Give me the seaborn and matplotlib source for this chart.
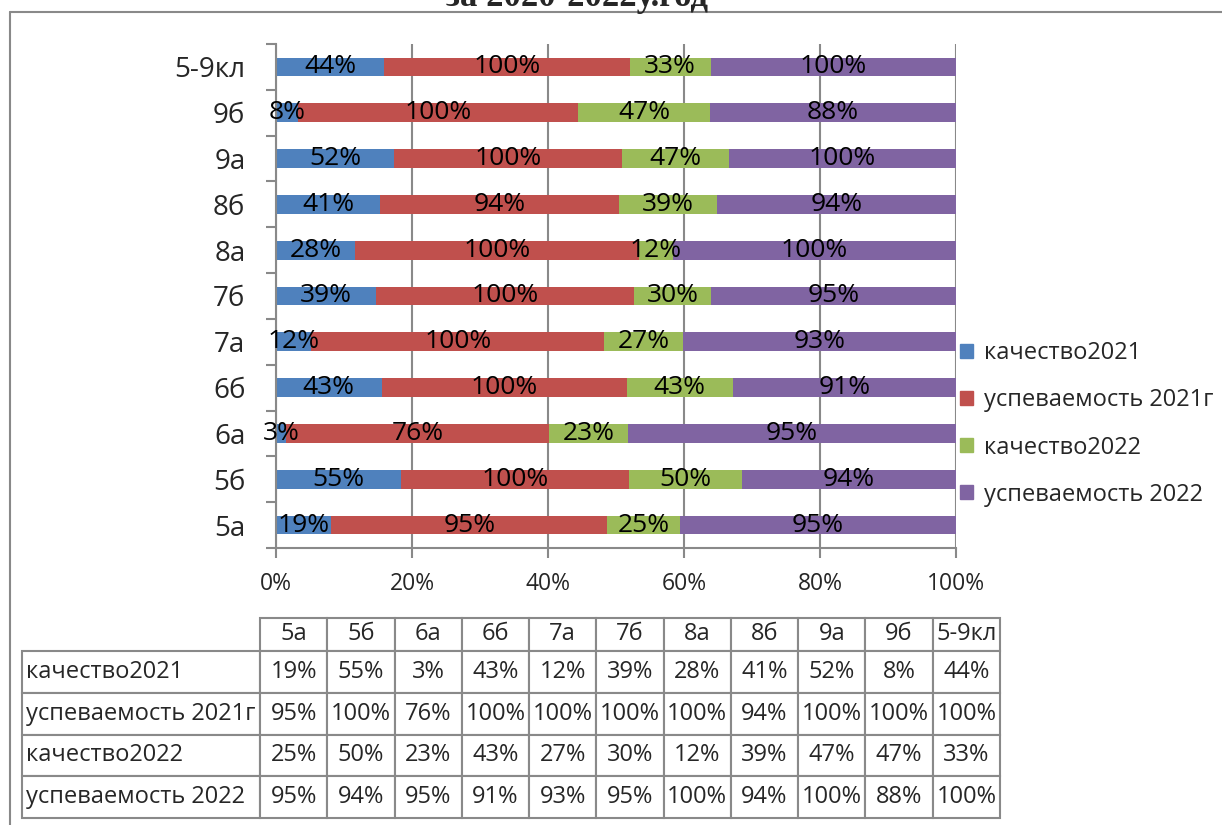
import matplotlib
matplotlib.use("Agg")
import matplotlib.pyplot as plt
from matplotlib.lines import Line2D
from matplotlib.patches import Patch
from matplotlib.table import Table
import numpy as np
import pandas as pd
import seaborn as sns

# ============ данные ============
classes = ["5а", "5б", "6а", "6б", "7а", "7б", "8а", "8б", "9а", "9б", "5-9кл"]
kach_2021 = [19, 55, 3, 43, 12, 39, 28, 41, 52, 8, 44]
usp_2021 = [95, 100, 76, 100, 100, 100, 100, 94, 100, 100, 100]
kach_2022 = [25, 50, 23, 43, 27, 30, 12, 39, 47, 47, 33]
usp_2022 = [95, 94, 95, 91, 93, 95, 100, 94, 100, 88, 100]

series_names = ["качество2021", "успеваемость 2021г", "качество2022", "успеваемость 2022"]
colors = ["#4F81BD", "#C0504D", "#9BBB59", "#8064A2"]
title = "за 2020-2022у.год"

W, H = 1222, 825
GRAY = "#898989"

sns.set_theme(style="white")
plt.rcParams["font.family"] = ["Open Sans", "DejaVu Sans"]

df = pd.DataFrame(
    {"класс": classes, series_names[0]: kach_2021, series_names[1]: usp_2021,
     series_names[2]: kach_2022, series_names[3]: usp_2022}
)
order = classes[::-1]  # сверху 5-9кл, снизу 5а
raw = df.set_index("класс").loc[order]
share = raw.div(raw.sum(axis=1), axis=0) * 100
cum = share.cumsum(axis=1)

fig = plt.figure(figsize=(W / 100, H / 100), dpi=100)
ax = fig.add_axes([276 / W, (H - 548) / H, 680 / W, 504 / H])

# 100% stacked: рисуем накопленные суммы от последней к первой
for i in range(3, -1, -1):
    name = series_names[i]
    sns.barplot(x=cum[name].values, y=order, order=order, color=colors[i],
                saturation=1, width=0.41, errorbar=None, linewidth=0, ax=ax)

# подписи значений
for name in series_names:
    centers = cum[name] - share[name] / 2
    for yi, (c, v) in enumerate(zip(centers.values, raw[name].values)):
        ax.text(c, yi, f"{v}%", ha="center", va="center", fontsize=19, color="black")

ax.set_xlim(0, 100)
ax.set_ylim(10.5, -0.5)
ax.set_xlabel("")
ax.set_ylabel("")
ax.set_xticks(range(0, 101, 20))
ax.set_xticklabels([f"{t}%" for t in range(0, 101, 20)])
ax.set_yticks(np.arange(-0.5, 11, 1), minor=True)
ax.xaxis.grid(True, color=GRAY, linewidth=1.5)
ax.set_axisbelow(True)
for s in ["top", "right"]:
    ax.spines[s].set_visible(False)
for s in ["left", "bottom"]:
    ax.spines[s].set_color(GRAY)
    ax.spines[s].set_linewidth(1.5)
ax.tick_params(axis="x", bottom=True, length=7, width=1.5, color=GRAY, pad=10, labelsize=16.5)
ax.tick_params(axis="y", which="major", left=True, length=0, pad=22, labelsize=20)
ax.tick_params(axis="y", which="minor", left=True, length=7, width=1.5, color=GRAY)

# легенда
handles = [Patch(color=c) for c in colors]
fig.legend(handles, series_names, loc="upper left", bbox_to_anchor=(939 / W, 1 - 320 / H),
           frameon=False, fontsize=17, handlelength=0.55, handleheight=0.55,
           handletextpad=0.45, labelspacing=0.98)

# таблица данных
tax = fig.add_axes([22 / W, (H - 818) / H, 978 / W, 200 / H])
tax.axis("off")
tbl = Table(tax, bbox=[0, 0, 1, 1])
wl, wd = 238 / 978, 740 / 11 / 978
hh, hr = 33 / 200, 167 / 4 / 200
for j, c in enumerate(classes):
    tbl.add_cell(0, j + 1, width=wd, height=hh, text=c, loc="center")
for r, name in enumerate(series_names):
    cell = tbl.add_cell(r + 1, 0, width=wl, height=hr, text=name, loc="left")
    cell.PAD = 0.015
    for j, v in enumerate(df[name]):
        tbl.add_cell(r + 1, j + 1, width=wd, height=hr, text=f"{v}%", loc="center")
tbl.auto_set_font_size(False)
tbl.set_fontsize(17)
for cell in tbl.get_celld().values():
    cell.set_edgecolor(GRAY)
    cell.set_linewidth(1.5)
tax.add_table(tbl)

# рамка и обрезанный заголовок
fig.add_artist(Line2D([10 / W, 1], [1 - 11.5 / H, 1 - 11.5 / H], color=GRAY, linewidth=1.5))
fig.add_artist(Line2D([10 / W, 10 / W], [0, 1 - 11.5 / H], color=GRAY, linewidth=1.5))
fig.text(577 / W, 1 - 6 / H, title, ha="center", va="baseline", fontsize=25,
         fontweight="bold", family="Liberation Serif")

fig.savefig("out.png", dpi=100)
